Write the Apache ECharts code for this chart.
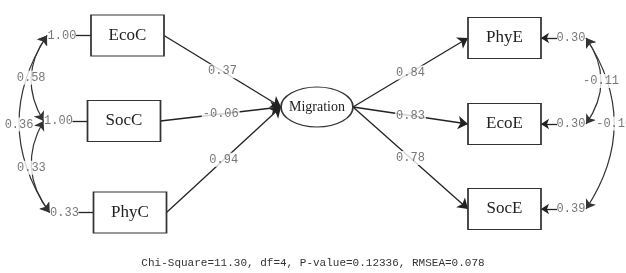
<!DOCTYPE html>
<html>
<head>
<meta charset="utf-8">
<script src="https://cdn.jsdelivr.net/npm/echarts@6/dist/echarts.min.js"></script>
<style>
  html, body { margin: 0; padding: 0; background: #fff; }
  #chart { width: 626px; height: 273px; }
</style>
</head>
<body>
<div id="chart"></div>
<script>
// observed variables
const causes = ['EcoC', 'SocC', 'PhyC'];
const effects = ['PhyE', 'EcoE', 'SocE'];
const latent = 'Migration';
// path coefficients
const causePaths = [0.37, -0.06, 0.94];
const effectPaths = [0.84, 0.83, 0.78];
// error variances
const causeErrors = [1.00, 1.00, 0.33];
const effectErrors = [0.30, 0.30, 0.39];
// covariances [from, to, value]
const causeCov = [[0, 1, 0.58], [0, 2, 0.36], [1, 2, 0.33]];
const effectCov = [[0, 1, -0.11], [0, 2, -0.10]];
const fitText = 'Chi-Square=11.30, df=4, P-value=0.12336, RMSEA=0.078';

// layout, px
const causePos = [[127.5, 35.5], [124, 121], [130, 212.5]];
const effectPos = [[504.5, 38], [504.5, 124], [504.5, 209]];
const latentPos = [317, 107];
const boxW = 73, boxH = 41, ellW = 72, ellH = 40;
const ellipse = 'path://M0,50a50,50 0 1,0 100,0a50,50 0 1,0 -100,0z';

const nodes = [];
const links = [];
const curves = [];
const labels = [];

function node(name, p, opt) {
  nodes.push(Object.assign({ name: name, value: p.slice() }, opt || { symbolSize: 0 }));
}
function mid(a, b) { return [(a[0] + b[0]) / 2, (a[1] + b[1]) / 2]; }
// same control point as echarts uses for curved lines
function curveMid(a, b, c) {
  const cp = [(a[0] + b[0]) / 2 - (a[1] - b[1]) * c, (a[1] + b[1]) / 2 - (b[0] - a[0]) * c];
  return [0.25 * a[0] + 0.25 * b[0] + 0.5 * cp[0], 0.25 * a[1] + 0.25 * b[1] + 0.5 * cp[1]];
}
function label(p, text, bg) {
  labels.push({ value: p, name: text, label: { backgroundColor: bg ? '#fff' : 'transparent' } });
}

node(latent, latentPos, { symbol: ellipse, symbolSize: [ellW, ellH], label: { show: true, fontSize: 14 } });
const migL = [latentPos[0] - ellW / 2, latentPos[1]];
const migR = [latentPos[0] + ellW / 2, latentPos[1]];
node('MigL', migL);
node('MigR', migR);

const causeCovPts = [];
causes.forEach(function (name, i) {
  const p = causePos[i];
  node(name, p, { symbol: 'rect', symbolSize: [boxW, boxH], label: { show: true } });
  const r = [p[0] + boxW / 2, p[1]];
  const l = [p[0] - boxW / 2, p[1]];
  const e = [l[0] - 15, p[1]];
  node(name + '_r', r); node(name + '_l', l); node(name + '_e', e);
  links.push({ source: name + '_r', target: 'MigL' });
  label(mid(r, migL), causePaths[i].toFixed(2), true);
  links.push({ source: name + '_e', target: name + '_l', symbol: ['none', 'none'] });
  label([l[0] - 29, p[1]], causeErrors[i].toFixed(2), false);
  causeCovPts.push([l[0] - 44, p[1]]);
});
causeCov.forEach(function (cv) {
  const a = causeCovPts[cv[0]], b = causeCovPts[cv[1]];
  curves.push({ coords: [a, b], lineStyle: { curveness: -0.33 } });
  label(curveMid(a, b, -0.33), cv[2].toFixed(2), true);
});

const effectCovPts = [];
effects.forEach(function (name, i) {
  const p = effectPos[i];
  node(name, p, { symbol: 'rect', symbolSize: [boxW, boxH], label: { show: true } });
  const l = [p[0] - boxW / 2, p[1]];
  const r = [p[0] + boxW / 2, p[1]];
  const e = [r[0] + 16, p[1]];
  node(name + '_r', r); node(name + '_l', l); node(name + '_e', e);
  links.push({ source: 'MigR', target: name + '_l' });
  label(mid(migR, l), effectPaths[i].toFixed(2), true);
  links.push({ source: name + '_e', target: name + '_r', symbolSize: 8 });
  label([r[0] + 30, p[1]], effectErrors[i].toFixed(2), false);
  effectCovPts.push([r[0] + 45, p[1]]);
});
effectCov.forEach(function (cv) {
  const a = effectCovPts[cv[0]], b = effectCovPts[cv[1]];
  const cu = cv[1] - cv[0] > 1 ? 0.33 : 0.35;
  curves.push({ coords: [a, b], lineStyle: { curveness: cu } });
  label(curveMid(a, b, cu), cv[2].toFixed(2), true);
});

const chart = echarts.init(document.getElementById('chart'));
chart.setOption({
  backgroundColor: '#fff',
  animation: false,
  title: {
    text: fitText,
    left: 'center',
    top: 253,
    textStyle: { fontFamily: 'Liberation Mono', fontSize: 11, fontWeight: 'normal', color: '#333' }
  },
  grid: { left: 0, right: 0, top: 0, bottom: 0 },
  xAxis: { type: 'value', min: 0, max: 626, show: false },
  yAxis: { type: 'value', min: 0, max: 273, inverse: true, show: false },
  series: [
    {
      type: 'graph',
      coordinateSystem: 'cartesian2d',
      z: 2,
      data: nodes,
      links: links,
      itemStyle: { color: '#fff', borderColor: '#333', borderWidth: 1.3 },
      label: { show: false, position: 'inside', color: '#222', fontFamily: 'Liberation Serif', fontSize: 17 },
      lineStyle: { color: '#222', width: 1.3, opacity: 1 },
      edgeSymbol: ['none', 'arrow'],
      edgeSymbolSize: 10,
      emphasis: { disabled: true }
    },
    {
      // covariance curves
      type: 'lines',
      coordinateSystem: 'cartesian2d',
      z: 2,
      data: curves,
      symbol: ['arrow', 'arrow'],
      symbolSize: 9,
      lineStyle: { color: '#333', width: 1.2, opacity: 1 },
      emphasis: { disabled: true }
    },
    {
      type: 'scatter',
      z: 4,
      symbolSize: 0,
      data: labels,
      label: {
        show: true,
        position: 'inside',
        formatter: '{b}',
        fontFamily: 'Liberation Mono',
        fontSize: 12,
        color: '#555',
        padding: [1, 1]
      },
      emphasis: { disabled: true }
    }
  ]
});
</script>
</body>
</html>
